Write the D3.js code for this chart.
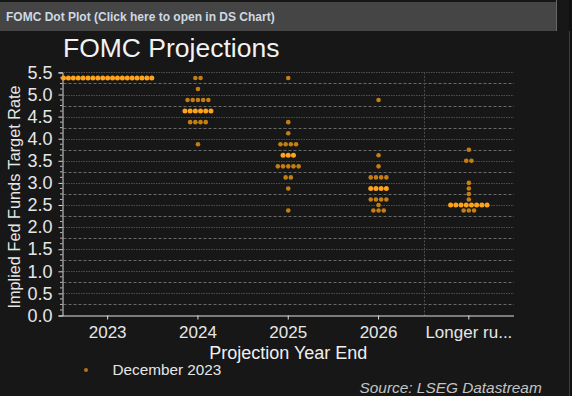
<!DOCTYPE html>
<html>
<head>
<meta charset="utf-8">
<script src="https://cdn.jsdelivr.net/npm/d3@7"></script>
<style>
html,body{margin:0;padding:0;background:#171717;}
svg{display:block;font-family:"Liberation Sans",Arial,sans-serif;}
</style>
</head>
<body>
<svg id="chart" width="572" height="396"></svg>
<script>
// ---- data ----
const categories = ["2023", "2024", "2025", "2026", "Longer run"];
const tickLabels = ["2023", "2024", "2025", "2026", "Longer ru..."];
const yTicks = [0, 0.5, 1, 1.5, 2, 2.5, 3, 3.5, 4, 4.5, 5, 5.5];
const rates2023 = [5.375];
const counts2023 = [19];
const rates2024 = [5.375, 5.125, 4.875, 4.625, 4.375, 3.875];
const counts2024 = [2, 1, 5, 6, 4, 1];
const rates2025 = [5.375, 4.375, 4.125, 3.875, 3.625, 3.375, 3.125, 2.875, 2.375];
const counts2025 = [1, 1, 1, 4, 3, 5, 2, 1, 1];
const rates2026 = [4.875, 3.625, 3.375, 3.125, 2.875, 2.625, 2.5, 2.375];
const counts2026 = [1, 1, 1, 4, 4, 4, 1, 3];
const ratesLR = [3.75, 3.5, 3.0, 2.875, 2.75, 2.625, 2.5, 2.375];
const countsLR = [1, 2, 1, 1, 1, 1, 8, 3];
const medians = [5.375, 4.625, 3.625, 2.875, 2.5];
const seriesName = "December 2023";

const allRates = [rates2023, rates2024, rates2025, rates2026, ratesLR];
const allCounts = [counts2023, counts2024, counts2025, counts2026, countsLR];

// ---- layout ----
const svg = d3.select("#chart");
const W = 572, H = 396;
const plot = {left: 62.5, right: 514, top: 72.4, bottom: 315.5};
const brightCol = "#FFA31A", darkCol = "#C47E12";

// right edge strip
svg.append("rect").attr("x", 569).attr("y", 0).attr("width", 3).attr("height", H).attr("fill", "#101010");
svg.append("line").attr("x1", 569.5).attr("x2", 569.5).attr("y1", 31).attr("y2", H)
  .attr("stroke", "#3c3c3c");

// title bar
svg.append("rect").attr("x", 0).attr("y", 2).attr("width", 556).attr("height", 29).attr("fill", "#454545");
svg.append("line").attr("x1", 556.5).attr("x2", 556.5).attr("y1", 0).attr("y2", 31).attr("stroke", "#666");
svg.append("text").attr("x", 6).attr("y", 21)
  .attr("font-size", 12).attr("font-weight", "bold").attr("fill", "#cdd9e4")
  .text("FOMC Dot Plot (Click here to open in DS Chart)");

svg.append("text").attr("x", 63).attr("y", 56.5)
  .attr("font-size", 26.5).attr("fill", "#f2f2f2").text("FOMC Projections");

const x = d3.scaleBand().domain(categories).range([plot.left, plot.right]).padding(0);
const y = d3.scaleLinear().domain([0, 5.5]).range([plot.bottom, plot.top]);

// gridlines every 0.25
const grid = d3.range(1, 23).map(i => i * 0.25);
svg.append("g").selectAll("line").data(grid).join("line")
  .attr("x1", plot.left + 1).attr("x2", plot.right)
  .attr("y1", d => Math.round(y(d)) + 0.5).attr("y2", d => Math.round(y(d)) + 0.5)
  .attr("stroke", d => (d * 2) % 1 === 0 ? "#4e4e4e" : "#6a6a6a")
  .attr("stroke-dasharray", d => (d * 2) % 1 === 0 ? "1.5,1" : "3,2");

// vertical separator before longer run
const sepX = Math.round(x("Longer run")) + 0.5;
svg.append("line").attr("x1", sepX).attr("x2", sepX).attr("y1", plot.top).attr("y2", plot.bottom)
  .attr("stroke", "#4e4e4e").attr("stroke-dasharray", "2,1.5");

// y axis
const yAxis = svg.append("g").attr("transform", `translate(${plot.left},0)`)
  .call(d3.axisLeft(y).tickValues(yTicks).tickFormat(d3.format(".1f")).tickSize(4).tickPadding(6));
yAxis.select(".domain").attr("stroke", "#d8d8d8");
yAxis.selectAll(".tick line").attr("stroke", "#d8d8d8");
yAxis.selectAll(".tick text").attr("fill", "#e6e6e6").attr("font-size", 18)
  .attr("font-family", "Liberation Sans, Arial, sans-serif");
// minor ticks
const minor = d3.range(0, 45).map(i => i * 0.125).filter(v => (v * 2) % 1 !== 0);
svg.append("g").selectAll("line").data(minor).join("line")
  .attr("x1", plot.left - 2.5).attr("x2", plot.left)
  .attr("y1", d => y(d)).attr("y2", d => y(d)).attr("stroke", "#bbbbbb");

// x axis
const xAxis = svg.append("g").attr("transform", `translate(0,${plot.bottom})`)
  .call(d3.axisBottom(x).tickSize(4).tickPadding(6.3).tickFormat((d, i) => tickLabels[i]));
xAxis.select(".domain").attr("stroke", "#e0e0e0").attr("d", `M${plot.left},0.5H${plot.right}`);
xAxis.selectAll(".tick line").attr("stroke", "#e0e0e0");
xAxis.selectAll(".tick text").attr("fill", "#e6e6e6").attr("font-size", 17)
  .attr("font-family", "Liberation Sans, Arial, sans-serif");

// axis titles
svg.append("text").attr("transform", `translate(19.5,${(plot.top + plot.bottom) / 2 + 3}) rotate(-90)`)
  .attr("text-anchor", "middle").attr("font-size", 16.3).attr("fill", "#e6e6e6")
  .text("Implied Fed Funds Target Rate");
svg.append("text").attr("x", (plot.left + plot.right) / 2).attr("y", 358.5)
  .attr("text-anchor", "middle").attr("font-size", 18).attr("fill", "#f0f0f0")
  .text("Projection Year End");

// dots
const dots = [];
categories.forEach((c, ci) => {
  allRates[ci].forEach((r, ri) => {
    const k = allCounts[ci][ri];
    const sp = Math.min(5.2, (x.bandwidth() - 2) / Math.max(1, k - 1));
    for (let j = 0; j < k; j++) {
      dots.push({cat: c, rate: r, off: (j - (k - 1) / 2) * sp, med: r === medians[ci]});
    }
  });
});
svg.append("g").selectAll("circle").data(dots).join("circle")
  .attr("cx", d => x(d.cat) + x.bandwidth() / 2 + d.off)
  .attr("cy", d => y(d.rate))
  .attr("r", d => d.med ? 2.5 : 2.3)
  .attr("fill", d => d.med ? brightCol : darkCol);

// legend
svg.append("circle").attr("cx", 86).attr("cy", 370).attr("r", 2).attr("fill", "#b8740f");
svg.append("text").attr("x", 112.5).attr("y", 374.5).attr("font-size", 15.3).attr("fill", "#e6e6e6")
  .text(seriesName);

// source
svg.append("text").attr("x", 359.5).attr("y", 392.5).attr("font-size", 15.4)
  .attr("font-style", "italic").attr("fill", "#c4c4c4").text("Source: LSEG Datastream");
</script>
</body>
</html>
